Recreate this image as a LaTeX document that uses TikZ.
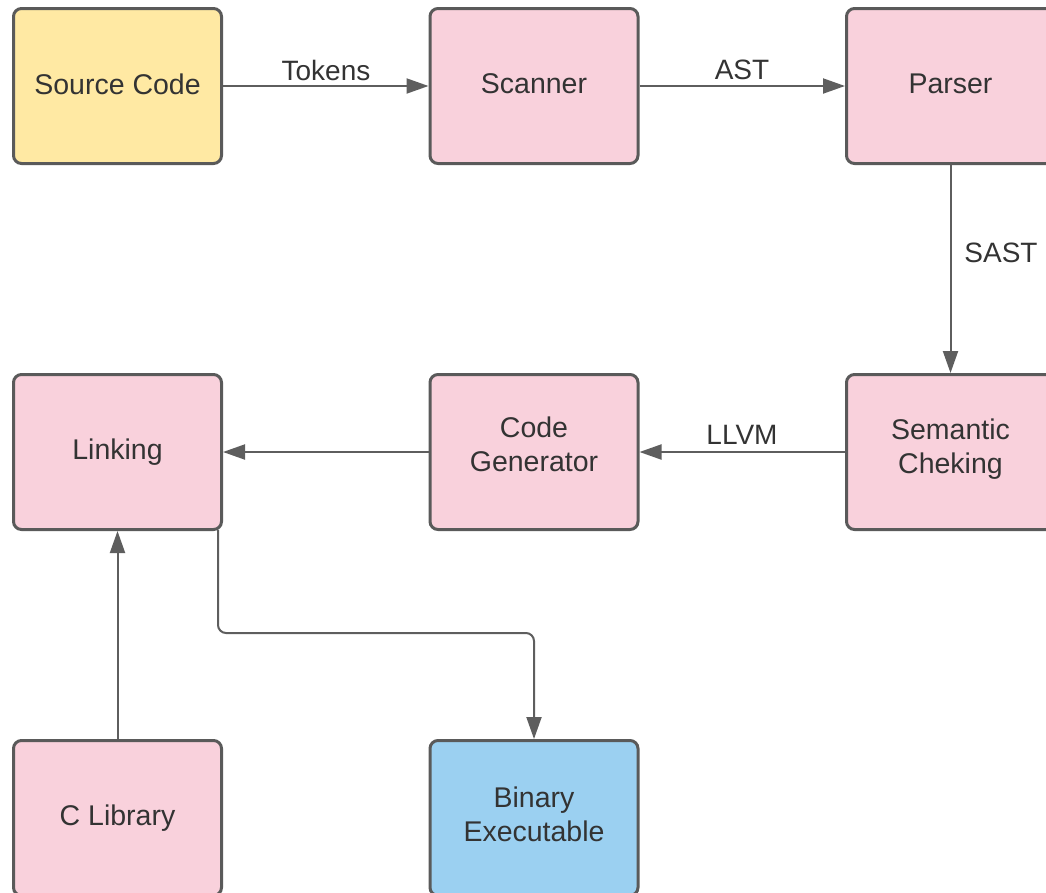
\documentclass[tikz,border=0pt]{standalone}
\usepackage{fontspec}
\setmainfont{Liberation Sans}
\usetikzlibrary{arrows.meta}
\definecolor{edgegray}{HTML}{5E5E5E}
\definecolor{boxborder}{HTML}{5A5A5A}
\definecolor{txtgray}{HTML}{333333}
\definecolor{fillyellow}{HTML}{FFE9A3}
\definecolor{fillpink}{HTML}{F9D1DC}
\definecolor{fillblue}{HTML}{9BD0F1}
\begin{document}
\begin{tikzpicture}[x=1pt,y=-1pt,
  box/.style={draw=boxborder, line width=3pt, rounded corners=8pt,
    minimum width=208pt, minimum height=155pt, inner sep=0pt,
    text=txtgray, font=\fontsize{28.5}{34}\selectfont, align=center},
  pinkbox/.style={box, fill=fillpink},
  conn/.style={draw=edgegray, line width=2pt,
    -{Triangle[length=22pt,width=15pt]}},
  lbl/.style={text=txtgray, font=\fontsize{28}{32}\selectfont, inner sep=0pt}]
\useasboundingbox (0,0) rectangle (1046,892);
\clip (0,0) rectangle (1046,892);
\node[box, fill=fillyellow, text depth=4pt] (src) at (117.5,86) {Source Code};
\node[pinkbox, text depth=4pt] (scan) at (534,86) {Scanner};
\node[pinkbox, text depth=4pt] (parse) at (950.5,86) {Parser};
\node[pinkbox, text depth=11pt] (sem) at (950.5,452) {Semantic\\Cheking};
\node[pinkbox, text depth=15pt] (gen) at (534,452) {Code\\Generator};
\node[pinkbox] (link) at (117.5,452) {Linking};
\node[pinkbox] (clib) at (117.5,818) {C Library};
\node[box, fill=fillblue, text depth=8pt] (bin) at (534,818) {Binary\\Executable};
\draw[conn] (src.east) -- (scan.west);
\node[lbl] at (326,70) {Tokens};
\draw[conn] (scan.east) -- (parse.west);
\node[lbl] at (742,70) {AST};
\draw[conn] (parse.south) -- (sem.north);
\node[lbl] at (1001,253) {SAST};
\draw[conn] (sem.west) -- (gen.east);
\node[lbl] at (742,435) {LLVM};
\draw[conn] (gen.west) -- (link.east);
\draw[conn] (clib.north) -- (link.south);
\coordinate (lk) at (218,530);
\draw[conn, rounded corners=8pt] (lk) -- (218,633) -- (534,633) -- (bin.north);
\end{tikzpicture}
\end{document}
